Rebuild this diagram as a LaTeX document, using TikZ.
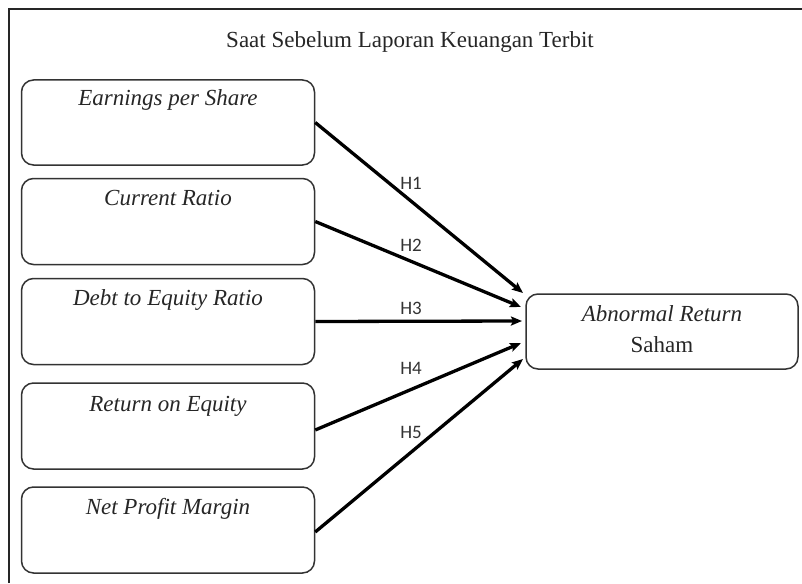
\documentclass[tikz,border=0pt]{standalone}
\usepackage{fontspec}
\setmainfont{Liberation Serif}
\newfontfamily\hfont{Carlito}
\usetikzlibrary{arrows.meta,calc}
\begin{document}
\begin{tikzpicture}[x=1pt,y=-1pt,
  box/.style={draw=black!80,line width=1.5pt,rounded corners=12pt,inner sep=0pt},
  lbl/.style={anchor=base,inner sep=0pt,font=\fontsize{23}{26}\selectfont\itshape,text=black!85},
  hyp/.style={inner sep=0pt,font=\hfont\fontsize{19}{21}\selectfont,text=black!80},
  arr/.style={line width=3.3pt,-{Stealth[length=11pt,width=9pt,inset=2pt]}},
  frame/.style={line width=2.5pt,black!85}]
\useasboundingbox (0,0) rectangle (802,583);
\draw[frame] (9,583) -- (9,9) -- (802,9);
\node[anchor=base,inner sep=0pt,font=\fontsize{23}{26}\selectfont,text=black!85] (title) at (410,48) {Saat Sebelum Laporan Keuangan Terbit};
% left boxes
\node[box,minimum width=293pt,minimum height=85pt] (b1) at (168,122.5) {};
\node[box,minimum width=293pt,minimum height=86pt] (b2) at (168,221.5) {};
\node[box,minimum width=293pt,minimum height=86pt] (b3) at (168,321.5) {};
\node[box,minimum width=293pt,minimum height=86pt] (b4) at (168,426) {};
\node[box,minimum width=293pt,minimum height=86pt] (b5) at (168,530) {};
\node[lbl] (t1) at (168,106) {Earnings per Share};
\node[lbl] (t2) at (168,205) {Current Ratio};
\node[lbl] (t3) at (168,305) {Debt to Equity Ratio};
\node[lbl] (t4) at (168,411) {Return on Equity};
\node[lbl] (t5) at (168,514) {Net Profit Margin};
% right box
\node[box,minimum width=272pt,minimum height=75pt] (ar) at (662,331.5) {};
\node[lbl] (ar1) at (662,321) {Abnormal Return};
\node[lbl,font=\fontsize{23}{26}\selectfont] (ar2) at (662,352) {Saham};
% arrow end points
\coordinate (e1) at (523,293);
\coordinate (e2) at (521,307);
\coordinate (e3) at (522,321);
\coordinate (e4) at (521,343);
\coordinate (e5) at (523,359);
\draw[arr] (b1.east) -- (e1);
\draw[arr] (b2.east) -- (e2);
\draw[arr] (b3.east) -- (e3);
\draw[arr] (b4.east |- 0,430) -- (e4);
\draw[arr] (b5.east |- 0,532) -- (e5);
\node[hyp] (h1) at (411,183) {H1};
\node[hyp] (h2) at (411,245) {H2};
\node[hyp] (h3) at (411,308) {H3};
\node[hyp] (h4) at (411,368) {H4};
\node[hyp] (h5) at (411,432) {H5};
\end{tikzpicture}
\end{document}
